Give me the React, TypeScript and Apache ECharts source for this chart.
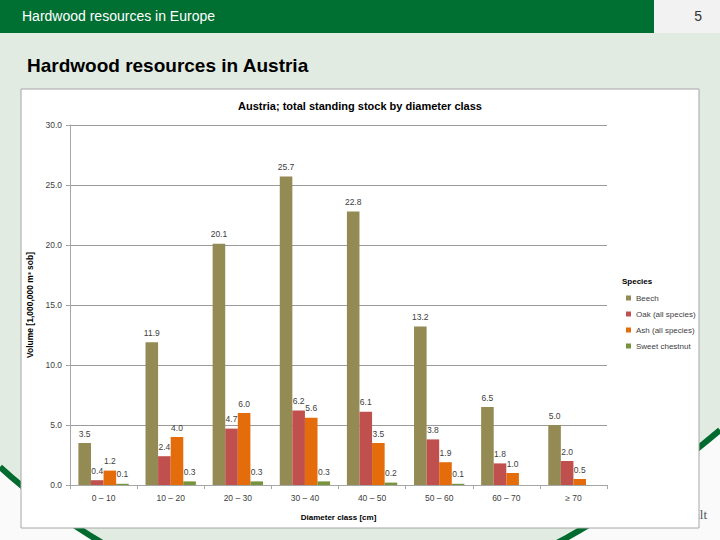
import React, { useEffect, useRef } from "react";
import * as echarts from "echarts";

const categories = ["0 – 10", "10 – 20", "20 – 30", "30 – 40", "40 – 50", "50 – 60", "60 – 70", "≥ 70"];
const beech = [3.5, 11.9, 20.1, 25.7, 22.8, 13.2, 6.5, 5.0];
const oak = [0.4, 2.4, 4.7, 6.2, 6.1, 3.8, 1.8, 2.0];
const ash = [1.2, 4.0, 6.0, 5.6, 3.5, 1.9, 1.0, 0.5];
const chestnut = [0.1, 0.3, 0.3, 0.3, 0.2, 0.1, null, null];
const seriesNames = ["Beech", "Oak (all species)", "Ash (all species)", "Sweet chestnut"];
const seriesColors = ["#948a54", "#c0504d", "#e46c0a", "#77933c"];
const yTicks = { min: 0, max: 30, interval: 5 };

function swooshPoints(): number[][] {
  const p0 = [0, 467], p1 = [329, 763], p2 = [720, 430];
  const pts: number[][] = [];
  for (let i = 0; i <= 60; i++) {
    const t = i / 60;
    const a = (1 - t) * (1 - t), b = 2 * (1 - t) * t, c = t * t;
    pts.push([a * p0[0] + b * p1[0] + c * p2[0], a * p0[1] + b * p1[1] + c * p2[1]]);
  }
  return pts;
}

export default function App() {
  const ref = useRef<HTMLDivElement>(null);
  useEffect(() => {
    document.body.style.margin = "0";
    const chart = echarts.init(ref.current!, null, { renderer: "svg" });
    const pts = swooshPoints();
    const labelFont = "'Liberation Sans', Arial, sans-serif";
    const dataSets = [beech, oak, ash, chestnut];
    chart.setOption({
      animation: false,
      graphic: [
        { type: "rect", z: -10, shape: { x: 0, y: 0, width: 720, height: 540 }, style: { fill: "#e2ebe2" }, silent: true },
        { type: "polygon", z: -9, shape: { points: [...pts, [720, 540], [0, 540]] }, style: { fill: "#fafafa" }, silent: true },
        { type: "polyline", z: -8, shape: { points: pts }, style: { stroke: "#006b2f", lineWidth: 6, fill: null }, silent: true },
        { type: "rect", z: -7, shape: { x: 0, y: 0, width: 654, height: 33 }, style: { fill: "#006f32" }, silent: true },
        { type: "rect", z: -7, shape: { x: 654, y: 0, width: 66, height: 33 }, style: { fill: "#f2f2f2" }, silent: true },
        { type: "text", z: -6, x: 22, y: 16, style: { text: "Hardwood resources in Europe", fill: "#ffffff", font: "14px 'Liberation Sans', Arial, sans-serif", textVerticalAlign: "middle" }, silent: true },
        { type: "text", z: -6, x: 702, y: 16, style: { text: "5", fill: "#333333", font: "14px 'Liberation Sans', Arial, sans-serif", textAlign: "right", textVerticalAlign: "middle" }, silent: true },
        { type: "text", z: -6, x: 27, y: 65, style: { text: "Hardwood resources in Austria", fill: "#000000", font: "bold 19px 'Liberation Sans', Arial, sans-serif", textVerticalAlign: "middle" }, silent: true },
        { type: "text", z: -6, x: 707, y: 514, style: { text: "alt", fill: "#555555", font: "13px 'Liberation Serif', serif", textAlign: "right", textVerticalAlign: "middle" }, silent: true },
        { type: "rect", z: -5, shape: { x: 21, y: 89, width: 678, height: 439 }, style: { fill: "#ffffff", stroke: "#a6a6a6", lineWidth: 1 }, silent: true },
        { type: "text", z: 5, x: 360, y: 106, style: { text: "Austria; total standing stock by diameter class", fill: "#000000", font: "bold 11px 'Liberation Sans', Arial, sans-serif", textAlign: "center", textVerticalAlign: "middle" }, silent: true },
        { type: "text", z: 5, x: 622, y: 281, style: { text: "Species", fill: "#000000", font: "bold 8px " + labelFont, textVerticalAlign: "middle" }, silent: true },
      ],
      grid: { left: 70, right: 113, top: 125, bottom: 55, containLabel: false },
      legend: {
        orient: "vertical",
        left: 621,
        top: 288,
        icon: "rect",
        itemWidth: 5,
        itemHeight: 5,
        itemGap: 6,
        textStyle: { fontSize: 8, color: "#404040", fontFamily: labelFont, lineHeight: 10 },
        data: seriesNames,
      },
      xAxis: {
        type: "category",
        data: categories,
        axisLine: { show: true, lineStyle: { color: "#a6a6a6", width: 1 } },
        axisTick: { show: true, length: 4, alignWithLabel: false, lineStyle: { color: "#a6a6a6" } },
        axisLabel: { fontSize: 8.5, color: "#404040", fontFamily: labelFont, margin: 8 },
        name: "Diameter class [cm]",
        nameLocation: "middle",
        nameGap: 28,
        nameTextStyle: { fontSize: 8, fontWeight: "bold", color: "#000000", fontFamily: labelFont },
      },
      yAxis: {
        type: "value",
        min: yTicks.min,
        max: yTicks.max,
        interval: yTicks.interval,
        axisLine: { show: true, lineStyle: { color: "#a6a6a6", width: 1 } },
        axisTick: { show: true, length: 4, lineStyle: { color: "#a6a6a6" } },
        splitLine: { show: true, lineStyle: { color: "#9a9a9a", width: 1 } },
        axisLabel: { fontSize: 8.5, color: "#404040", fontFamily: labelFont, margin: 8, formatter: (v: number) => v.toFixed(1) },
        name: "Volume [1,000,000 m³ sob]",
        nameLocation: "middle",
        nameGap: 31,
        nameTextStyle: { fontSize: 8.5, fontWeight: "bold", color: "#000000", fontFamily: labelFont },
      },
      series: seriesNames.map((name, i) => ({
        name,
        type: "bar",
        data: dataSets[i],
        barGap: "0%",
        barCategoryGap: "25%",
        itemStyle: { color: seriesColors[i] },
        label: {
          show: true,
          position: "top",
          distance: 5,
          fontSize: 8.5,
          color: "#404040",
          fontFamily: labelFont,
          formatter: (p: any) => (p.value == null ? "" : Number(p.value).toFixed(1)),
        },
      })),
    });
    return () => chart.dispose();
  }, []);
  return <div ref={ref} style={{ position: "absolute", left: 0, top: 0, width: 720, height: 540 }} />;
}
